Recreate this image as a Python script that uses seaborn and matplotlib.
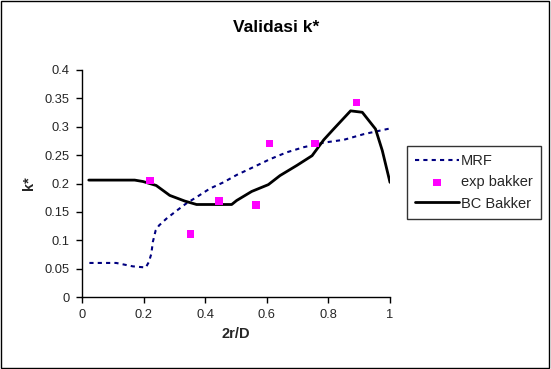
import matplotlib
matplotlib.use("Agg")
import matplotlib.pyplot as plt
import seaborn as sns
import pandas as pd
from matplotlib.patches import Rectangle

sns.set_style("white")
plt.rcParams['font.family'] = ['Liberation Sans', 'DejaVu Sans']

# MRF series
mrf_x = [0.024, 0.111, 0.165, 0.207, 0.217, 0.225, 0.230, 0.239, 0.25, 0.274, 0.307, 0.339,
         0.372, 0.415, 0.459, 0.502, 0.557, 0.611, 0.665, 0.72, 0.785, 0.85, 0.915, 1.0]
mrf_y = [0.060, 0.060, 0.054, 0.052, 0.0616, 0.076, 0.097, 0.117, 0.126, 0.138, 0.152, 0.165,
         0.176, 0.191, 0.202, 0.215, 0.229, 0.243, 0.255, 0.264, 0.272, 0.277, 0.287, 0.297]

# Experimental Bakker points
exp_x = [0.221, 0.352, 0.445, 0.565, 0.609, 0.757, 0.892]
exp_y = [0.205, 0.111, 0.169, 0.162, 0.271, 0.271, 0.343]

# BC Bakker series
bc_x = [0.022, 0.171, 0.198, 0.241, 0.285, 0.334, 0.372, 0.486, 0.502, 0.551, 0.605, 0.643,
        0.698, 0.747, 0.785, 0.817, 0.872, 0.91, 0.953, 0.975, 1.0]
bc_y = [0.206, 0.206, 0.2035, 0.1965, 0.179, 0.169, 0.163, 0.163, 0.170, 0.186, 0.198, 0.214,
        0.232, 0.249, 0.277, 0.296, 0.328, 0.3255, 0.296, 0.258, 0.202]

x_ticks = [0, 0.2, 0.4, 0.6, 0.8, 1]
x_ticklabels = ["0", "0.2", "0.4", "0.6", "0.8", "1"]
y_ticks = [0, 0.05, 0.1, 0.15, 0.2, 0.25, 0.3, 0.35, 0.4]
y_ticklabels = ["0", "0.05", "0.1", "0.15", "0.2", "0.25", "0.3", "0.35", "0.4"]

mrf = pd.DataFrame({"x": mrf_x, "y": mrf_y})
exp = pd.DataFrame({"x": exp_x, "y": exp_y})
bc = pd.DataFrame({"x": bc_x, "y": bc_y})

fig = plt.figure(figsize=(5.51, 3.69), dpi=100)
ax = fig.add_axes([82/551, 1-297/369, (390-82)/551, (297-70)/369])

sns.lineplot(data=mrf, x="x", y="y", sort=False, ax=ax, color="#000080",
             linewidth=1.5, linestyle=(0, (2, 2)), label="MRF")
sns.scatterplot(data=exp, x="x", y="y", ax=ax, color="#FF00FF", marker="s",
                s=28, edgecolor="none", label="exp bakker", zorder=5)
sns.lineplot(data=bc, x="x", y="y", sort=False, ax=ax, color="black",
             linewidth=2, label="BC Bakker")

ax.set_xlim(0, 1)
ax.set_ylim(0, 0.4)
ax.set_xticks(x_ticks)
ax.set_xticklabels(x_ticklabels, fontsize=9.3)
ax.set_yticks(y_ticks)
ax.set_yticklabels(y_ticklabels, fontsize=9.3)
ax.tick_params(axis="both", direction="out", length=4, width=1, color="black",
               bottom=True, left=True, pad=5)
for side in ["top", "right"]:
    ax.spines[side].set_visible(False)
for side in ["left", "bottom"]:
    ax.spines[side].set_color("black")
    ax.spines[side].set_linewidth(1)
ax.set_xlabel("2r/D", fontsize=10.5, fontweight="bold", labelpad=4)
ax.set_ylabel("k*", fontsize=10.5, fontweight="bold", labelpad=6)
fig.text(276/551, 1-28/369, "Validasi k*", ha="center", va="center",
         fontsize=12.5, fontweight="bold", color="black")

leg = ax.legend(loc="upper left", bbox_to_anchor=(407/551, 1-146/369),
                bbox_transform=fig.transFigure, frameon=True, fancybox=False,
                edgecolor="black", fontsize=10.5, borderpad=0.55, labelspacing=0.5,
                handlelength=3.0, handletextpad=0.15, borderaxespad=0)
leg.get_frame().set_linewidth(1)

fig.patches.append(Rectangle((0.002, 0.003), 0.995, 0.994, transform=fig.transFigure,
                             fill=False, edgecolor="black", linewidth=1))

fig.savefig("out.png", dpi=100)
